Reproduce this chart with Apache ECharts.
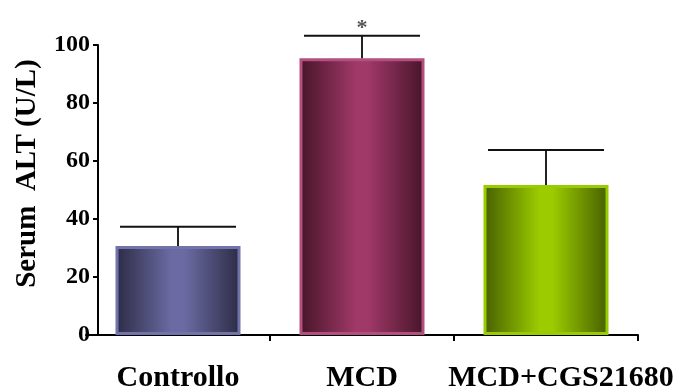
<!DOCTYPE html>
<html><head><meta charset="utf-8">
<script src="https://cdn.jsdelivr.net/npm/echarts@6/dist/echarts.min.js"></script>
<style>html,body{margin:0;padding:0;background:#fff}#c{width:683px;height:392px}</style>
</head><body><div id="c"></div>
<script>
var categories = ['Controllo', 'MCD', 'MCD+CGS21680'];
var meanValues = [30.7, 95.4, 51.7];
var errorTops = [37.3, 103.2, 63.8];
var significance = ['', '*', ''];
var yTicks = [0, 20, 40, 60, 80, 100];

var palettes = [
  {edge: '#2c2b45', mid: '#6b6ba3', border: '#7373ac'},
  {edge: '#461528', mid: '#a03868', border: '#b24e80'},
  {edge: '#465f00', mid: '#9ccc00', border: '#99cc00'}
];
function grad(p) {
  return new echarts.graphic.LinearGradient(0, 0, 1, 0, [
    {offset: 0, color: p.edge},
    {offset: 0.45, color: p.mid},
    {offset: 0.55, color: p.mid},
    {offset: 1, color: p.edge}
  ]);
}
var barData = meanValues.map(function (v, i) {
  return {value: v, itemStyle: {color: grad(palettes[i]), borderColor: palettes[i].border, borderWidth: 3}};
});
var errData = meanValues.map(function (v, i) { return [i, v, errorTops[i]]; });
var catData = categories.map(function (c, i) {
  return i === 2 ? {value: c, textStyle: {padding: [0, 0, 0, 30]}} : c;
});

var chart = echarts.init(document.getElementById('c'));
chart.setOption({
  animation: false,
  backgroundColor: '#fff',
  grid: {left: 86, width: 552, top: 45, bottom: 57, containLabel: false, outerBoundsMode: 'none'},
  xAxis: {
    type: 'category', data: catData,
    axisLine: {lineStyle: {color: '#000', width: 2}},
    axisTick: {show: true, length: 6, lineStyle: {color: '#000', width: 2},
      interval: function (index) { return index !== 0; }},
    axisLabel: {interval: 0, fontFamily: 'Liberation Serif', fontWeight: 'bold', fontSize: 30, color: '#000', margin: 28}
  },
  yAxis: {
    type: 'value', min: 0, max: 100, interval: 20, offset: -12,
    name: 'Serum  ALT (U/L)', nameLocation: 'middle', nameGap: 56,
    nameTextStyle: {fontFamily: 'Liberation Serif', fontWeight: 'bold', fontSize: 29, color: '#000', padding: [0, 0, 0, 33]},
    axisLine: {show: true, lineStyle: {color: '#000', width: 2}},
    axisTick: {show: true, length: 5, lineStyle: {color: '#000', width: 2}},
    axisLabel: {fontFamily: 'Liberation Serif', fontWeight: 'bold', fontSize: 24, color: '#000', margin: 8,
      formatter: function (v) { return yTicks.indexOf(v) >= 0 ? String(v) : ''; }},
    splitLine: {show: false}
  },
  series: [
    {type: 'bar', data: barData, barWidth: 125},
    {type: 'custom', data: errData, z: 5,
      renderItem: function (params, api) {
        var base = api.coord([api.value(0), api.value(1)]);
        var top = api.coord([api.value(0), api.value(2)]);
        var half = 58;
        var star = significance[params.dataIndex];
        var children = [
          {type: 'line', shape: {x1: base[0], y1: base[1], x2: top[0], y2: top[1]}, style: {stroke: '#222', lineWidth: 2}},
          {type: 'line', shape: {x1: top[0] - half, y1: top[1], x2: top[0] + half, y2: top[1]}, style: {stroke: '#111', lineWidth: 2}}
        ];
        if (star) {
          children.push({type: 'text', x: top[0], y: top[1] + 4,
            style: {text: star, fill: '#555', font: 'bold 22px Liberation Serif', textAlign: 'center', textVerticalAlign: 'bottom'}});
        }
        return {type: 'group', children: children};
      }
    }
  ]
});
</script></body></html>
